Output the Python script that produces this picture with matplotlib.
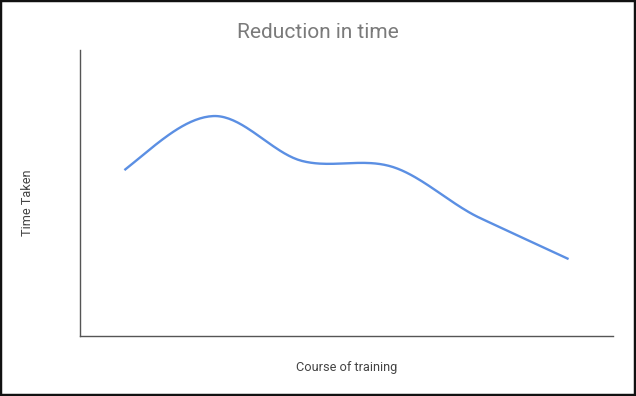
import numpy as np
import matplotlib
matplotlib.use("Agg")
import matplotlib.pyplot as plt
from matplotlib.patches import Rectangle

# Data
categories = ["1", "2", "3", "4", "5", "6"]
time_taken = [58.0, 76.9, 61.2, 59.3, 41.3, 26.9]
title = "Reduction in time"
xlabel = "Course of training"
ylabel = "Time Taken"

def smooth(xs, ys, n=40, tension=0.45):
    xs = np.asarray(xs, float); ys = np.asarray(ys, float)
    m = np.zeros_like(ys)
    m[1:-1] = (ys[2:] - ys[:-2]) / 2.0
    m[0] = (ys[1] - ys[0]) * 1.3
    m[-1] = ys[-1] - ys[-2]
    m[1:-1] *= tension * 2
    ox, oy = [], []
    for i in range(len(xs) - 1):
        t = np.linspace(0, 1, n, endpoint=(i == len(xs) - 2))
        h00 = 2*t**3 - 3*t**2 + 1
        h10 = t**3 - 2*t**2 + t
        h01 = -2*t**3 + 3*t**2
        h11 = t**3 - t**2
        ox.append(xs[i] + t * (xs[i+1] - xs[i]))
        oy.append(h00*ys[i] + h10*m[i] + h01*ys[i+1] + h11*m[i+1])
    return np.concatenate(ox), np.concatenate(oy)

plt.rcParams['font.family'] = ['Roboto', 'DejaVu Sans']
fig = plt.figure(figsize=(6.36, 3.96), dpi=100)
ax = fig.add_axes([80/636, 1-336/396, (613-80)/636, (336-50)/396])

x = np.arange(len(categories))
sx, sy = smooth(x, time_taken)
ax.plot(sx, sy, color="#5b8fe3", lw=1.7, solid_capstyle="butt")

ax.set_xlim(-0.5, len(categories) - 0.5)
ax.set_ylim(0, 100)
ax.set_xticks([]); ax.set_yticks([])
for s in ["top", "right"]:
    ax.spines[s].set_visible(False)
for s in ["left", "bottom"]:
    ax.spines[s].set_color("#555555")
    ax.spines[s].set_linewidth(1.0)

fig.text(318/636, 1-32/396, title, ha="center", va="center", fontsize=15, color="#7a7a7a")
fig.text(347/636, 1-368/396, xlabel, ha="center", va="center", fontsize=9.2, color="#444444")
fig.text(28/636, 1-203/396, ylabel, ha="center", va="center", fontsize=9.2, color="#444444", rotation=90)

fig.patches.append(Rectangle((0, 0), 1, 1, transform=fig.transFigure, fill=False,
                             edgecolor="#111111", linewidth=3.2, zorder=10))
fig.savefig("out.png", dpi=100)
